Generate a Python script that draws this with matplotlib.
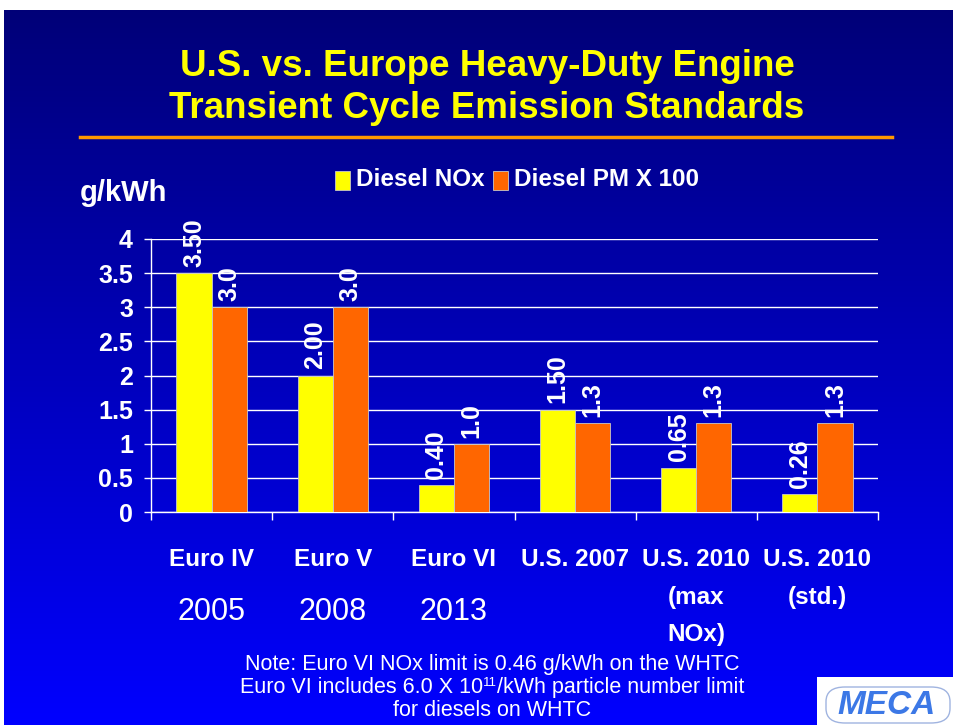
import matplotlib.pyplot as plt
import numpy as np
from matplotlib.patches import Rectangle, FancyBboxPatch

# --- data ---
categories = ["Euro IV", "Euro V", "Euro VI", "U.S. 2007", "U.S. 2010\n(max\nNOx)", "U.S. 2010\n(std.)"]
years = ["2005", "2008", "2013", "", "", ""]
nox = [3.50, 2.00, 0.40, 1.50, 0.65, 0.26]
pm_x100 = [3.0, 3.0, 1.0, 1.3, 1.3, 1.3]
y_ticks = [0, 0.5, 1, 1.5, 2, 2.5, 3, 3.5, 4]
y_tick_labels = ["0", "0.5", "1", "1.5", "2", "2.5", "3", "3.5", "4"]

YELLOW = "#FFFF00"
ORANGE = "#FF6600"
FONT = "Liberation Sans"

W, H = 954, 725
fig = plt.figure(figsize=(W / 100, H / 100), dpi=100)
fig.patch.set_facecolor("white")

# background gradient (navy -> bright blue), white margin top/left
bg = fig.add_axes([4 / W, 0, 1 - 4 / W, 1 - 10 / H])
bg.set_axis_off()
t = np.linspace(0, 1, 256)[:, None]
top = np.array([0, 0, 0.47])
bot = np.array([0, 0, 1.0])
grad = (top * (1 - t) + bot * t)[:, None, :].repeat(2, axis=1)
bg.imshow(grad, aspect="auto", extent=[0, 1, 0, 1], origin="upper")
bg.set_xlim(0, 1); bg.set_ylim(0, 1)

# title
fig.text(487 / W, 1 - 76 / H, "U.S. vs. Europe Heavy-Duty Engine", color=YELLOW,
         fontsize=26.5, fontweight="bold", family=FONT, ha="center", va="baseline")
fig.text(487 / W, 1 - 118 / H, "Transient Cycle Emission Standards", color=YELLOW,
         fontsize=26.5, fontweight="bold", family=FONT, ha="center", va="baseline")
fig.add_artist(plt.Line2D([80 / W, 892 / W], [1 - 137 / H] * 2, color="#FF9900", lw=2.5))

# main axes
ax = fig.add_axes([151 / W, 213 / H, 727 / W, 273 / H])
ax.set_facecolor("none")
x = np.arange(len(categories))
bw = 0.29
b1 = ax.bar(x - bw / 2, nox, bw, color=YELLOW, edgecolor="#C8C8C8", lw=0.6, zorder=3)
b2 = ax.bar(x + bw / 2, pm_x100, bw, color=ORANGE, edgecolor="#C8C8C8", lw=0.6, zorder=3)

for rect, v in zip(b1, nox):
    ax.text(rect.get_x() + rect.get_width() / 2, v + 0.09, f"{v:.2f}", rotation=90,
            ha="center", va="bottom", color="white", fontsize=18, fontweight="bold", family=FONT)
for rect, v in zip(b2, pm_x100):
    ax.text(rect.get_x() + rect.get_width() / 2, v + 0.09, f"{v:.1f}", rotation=90,
            ha="center", va="bottom", color="white", fontsize=18, fontweight="bold", family=FONT)

ax.set_xlim(-0.5, len(categories) - 0.5)
ax.set_ylim(0, 4)
ax.set_yticks(y_ticks)
ax.set_yticklabels(y_tick_labels)
ax.yaxis.grid(True, color="white", lw=1)
ax.set_axisbelow(True)
for s in ["top", "right"]:
    ax.spines[s].set_visible(False)
for s in ["left", "bottom"]:
    ax.spines[s].set_color("white")
    ax.spines[s].set_linewidth(1)
ax.tick_params(axis="y", colors="white", length=5, width=1, pad=8, labelsize=18)
for lab in ax.get_yticklabels():
    lab.set_fontweight("bold"); lab.set_family(FONT)
ax.set_xticks(np.arange(len(categories) + 1) - 0.5)
ax.set_xticklabels([])
ax.tick_params(axis="x", colors="white", length=6, width=1)

# category labels
for i, (c, yr) in enumerate(zip(categories, years)):
    ax.text(i, -0.53, c, ha="center", va="top", color="white", fontsize=17.5,
            fontweight="bold", family=FONT, linespacing=1.8, clip_on=False)
    if yr:
        ax.text(i, -1.24, yr, ha="center", va="top", color="white", fontsize=22,
                family=FONT, clip_on=False)

# y unit label
fig.text(80 / W, 1 - 201 / H, "g/kWh", color="white", fontsize=21, fontweight="bold",
         family=FONT, ha="left", va="baseline")

# legend
ly = 1 - 180 / H
fig.add_artist(Rectangle((335 / W, ly - 10 / H), 15 / W, 19 / H, facecolor=YELLOW,
                         edgecolor="#C8C8C8", lw=0.6, transform=fig.transFigure))
fig.text(356 / W, ly, "Diesel NOx", color="white", fontsize=17.5, fontweight="bold",
         family=FONT, ha="left", va="center")
fig.add_artist(Rectangle((493 / W, ly - 10 / H), 15 / W, 19 / H, facecolor=ORANGE,
                         edgecolor="#C8C8C8", lw=0.6, transform=fig.transFigure))
fig.text(514 / W, ly, "Diesel PM X 100", color="white", fontsize=17.5, fontweight="bold",
         family=FONT, ha="left", va="center")

# note (superscript built from separate small texts so lines don't collide)
nfs = 15.5
fig.text(492 / W, 1 - 670 / H, "Note: Euro VI NOx limit is 0.46 g/kWh on the WHTC",
         color="white", fontsize=nfs, family=FONT, ha="center", va="baseline")
parts = [("Euro VI includes 6.0 X 10", nfs, 0), ("11", 9.5, 7), ("/kWh particle number limit", nfs, 0)]
fig.canvas.draw()
r = fig.canvas.get_renderer()
txts = []
for s, fs, dy in parts:
    tt = fig.text(0, 1 - (693 - dy) / H, s, color="white", fontsize=fs, family=FONT,
                  ha="left", va="baseline")
    txts.append(tt)
widths = [tt.get_window_extent(r).width for tt in txts]
x0 = 492 - sum(widths) / 2
for tt, w in zip(txts, widths):
    tt.set_x(x0 / W)
    x0 += w
fig.text(492 / W, 1 - 716 / H, "for diesels on WHTC",
         color="white", fontsize=nfs, family=FONT, ha="center", va="baseline")

# MECA logo box
fig.add_artist(Rectangle((817 / W, 0), 137 / W, 48 / H, facecolor="white",
                         edgecolor="none", transform=fig.transFigure))
fig.add_artist(FancyBboxPatch((826 / W, 2 / H), 124 / W, 36 / H,
                              boxstyle="round,pad=0,rounding_size=0.02",
                              facecolor="none", edgecolor="#A0B4E0", lw=1,
                              transform=fig.transFigure))
fig.text(887 / W, 20 / H, "MECA", color="#3C78E6", fontsize=24, fontweight="bold",
         fontstyle="italic", family=FONT, ha="center", va="center")

fig.savefig("out.png", dpi=100)
